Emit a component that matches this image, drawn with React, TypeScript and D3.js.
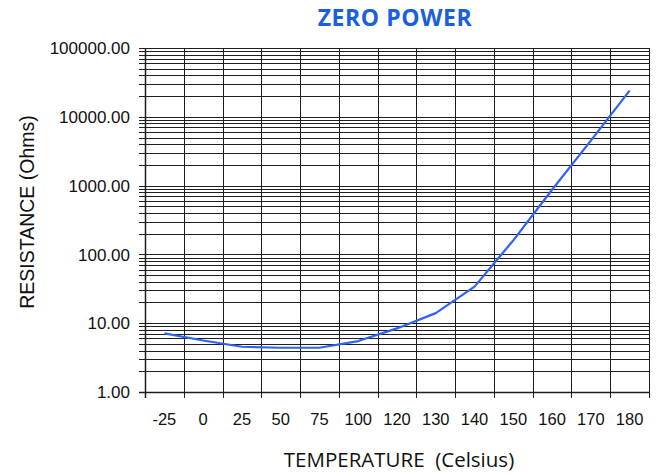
import React, { useEffect, useRef } from "react";
import * as d3 from "d3";

// temperature categories (Celsius) and resistance (Ohms)
const temps: string[] = ["-25", "0", "25", "50", "75", "100", "120", "130", "140", "150", "160", "170", "180"];
const resistance: number[] = [7.1, 5.6, 4.55, 4.4, 4.4, 5.5, 8.4, 14, 34, 160, 870, 4500, 24000];
const yTicks: number[] = [1, 10, 100, 1000, 10000, 100000];

const App = () => {
  const svgRef = useRef<SVGSVGElement | null>(null);

  useEffect(() => {
    const width = 662;
    const height = 475;
    const left = 145;
    const right = 649;
    const top = 48;
    const bottom = 392;

    const svg = d3.select(svgRef.current);
    svg.selectAll("*").remove();

    const x = d3.scaleBand<string>().domain(temps).range([left, right]).padding(0);
    const y = d3.scaleLog().domain([1, 100000]).range([bottom, top]);

    // horizontal grid: every 1..9 x decade, with a small tick stub on the left
    const gridVals: number[] = [];
    for (let d = 1; d < 100000; d *= 10) {
      for (let m = 1; m < 10; m++) gridVals.push(m * d);
    }
    gridVals.push(100000);

    const grid = svg.append("g").attr("stroke", "#1e1e1e").attr("stroke-width", 1);
    grid
      .selectAll("line.h")
      .data(gridVals)
      .join("line")
      .attr("class", "h")
      .attr("x1", left - 6)
      .attr("x2", right)
      .attr("y1", (d) => Math.round(y(d)) + 0.5)
      .attr("y2", (d) => Math.round(y(d)) + 0.5);

    // vertical grid at category boundaries
    const bounds = temps.map((t) => x(t) as number).concat([right]);
    grid
      .selectAll("line.v")
      .data(bounds)
      .join("line")
      .attr("class", "v")
      .attr("x1", (d) => Math.round(d) + 0.5)
      .attr("x2", (d) => Math.round(d) + 0.5)
      .attr("y1", top)
      .attr("y2", bottom + 6);

    // axis lines
    svg
      .append("line")
      .attr("x1", left - 6)
      .attr("x2", right)
      .attr("y1", bottom + 0.5)
      .attr("y2", bottom + 0.5)
      .attr("stroke", "#1e1e1e")
      .attr("stroke-width", 1.5);
    svg
      .append("line")
      .attr("x1", left + 0.5)
      .attr("x2", left + 0.5)
      .attr("y1", top)
      .attr("y2", bottom + 6)
      .attr("stroke", "#1e1e1e")
      .attr("stroke-width", 1.5);

    // y tick labels
    svg
      .append("g")
      .selectAll("text")
      .data(yTicks)
      .join("text")
      .attr("x", 130)
      .attr("y", (d) => y(d))
      .attr("dy", "0.36em")
      .attr("text-anchor", "end")
      .attr("font-family", "'Liberation Sans', Arial, sans-serif")
      .attr("font-size", 17)
      .attr("fill", "#111")
      .text((d) => d3.format(".2f")(d));

    // x tick labels
    svg
      .append("g")
      .selectAll("text")
      .data(temps)
      .join("text")
      .attr("x", (d) => (x(d) as number) + x.bandwidth() / 2)
      .attr("y", 425)
      .attr("text-anchor", "middle")
      .attr("font-family", "'Liberation Sans', Arial, sans-serif")
      .attr("font-size", 16.5)
      .attr("fill", "#111")
      .text((d) => d);

    // resistance curve
    const line = d3
      .line<number>()
      .x((_, i) => (x(temps[i]) as number) + x.bandwidth() / 2)
      .y((d) => y(d));
    svg
      .append("path")
      .datum(resistance)
      .attr("fill", "none")
      .attr("stroke", "#2f62f5")
      .attr("stroke-width", 2.2)
      .attr("stroke-linejoin", "round")
      .attr("d", line);

    // titles
    svg
      .append("text")
      .attr("x", 395)
      .attr("y", 26)
      .attr("text-anchor", "middle")
      .attr("font-family", "'Open Sans', sans-serif")
      .attr("font-weight", "bold")
      .attr("font-size", 23)
      .attr("letter-spacing", 0.6)
      .attr("fill", "#1a5fe0")
      .text("ZERO POWER");

    svg
      .append("text")
      .attr("x", 399)
      .attr("y", 467)
      .attr("text-anchor", "middle")
      .attr("font-family", "'Open Sans', sans-serif")
      .attr("font-size", 20.5)
      .attr("fill", "#111")
      .attr("xml:space", "preserve")
      .text("TEMPERATURE  (Celsius)");

    svg
      .append("text")
      .attr("transform", "translate(34,212) rotate(-90)")
      .attr("text-anchor", "middle")
      .attr("font-family", "'Liberation Sans', Arial, sans-serif")
      .attr("font-size", 19.5)
      .attr("fill", "#111")
      .text("RESISTANCE (Ohms)");

    svg.attr("width", width).attr("height", height);
  }, []);

  return (
    <svg
      ref={svgRef}
      width={662}
      height={475}
      style={{ position: "absolute", left: 0, top: 0, background: "#fff" }}
    />
  );
};

export default App;
